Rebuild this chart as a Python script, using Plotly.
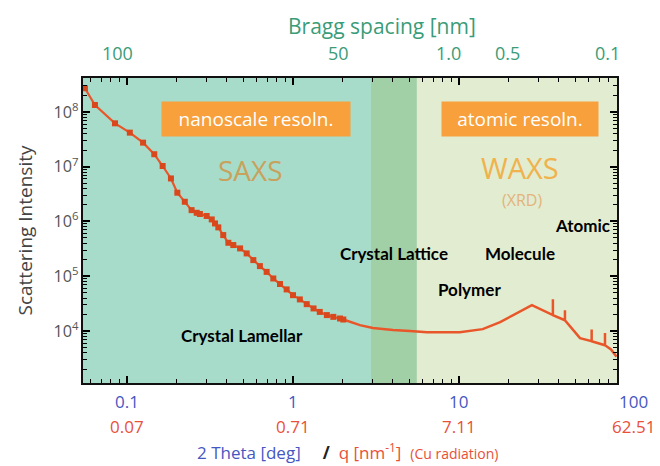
import math
import plotly.graph_objects as go

# ---------------- data ----------------
# SAXS part (2-theta in deg, intensity) – measured points with markers
saxs_x = [0.0558, 0.0641, 0.0847, 0.104, 0.125, 0.146, 0.164, 0.184, 0.201, 0.223,
          0.245, 0.263, 0.275, 0.302, 0.324, 0.339, 0.355, 0.380, 0.408, 0.437,
          0.480, 0.526, 0.577, 0.632, 0.694, 0.761, 0.835, 0.916, 1.00, 1.10,
          1.21, 1.33, 1.45, 1.60, 1.75, 1.92, 2.01]
saxs_y = [2.71e8, 1.34e8, 6.2e7, 4.19e7, 2.75e7, 1.69e7, 1.03e7, 6.1e6, 3.35e6, 2.29e6,
          1.61e6, 1.44e6, 1.37e6, 1.26e6, 1.09e6, 9.2e5, 7.8e5, 5.64e5, 4.08e5, 3.71e5,
          3.22e5, 2.61e5, 1.97e5, 1.53e5, 1.20e5, 9.1e4, 7.2e4, 5.74e4, 4.51e4, 3.77e4,
          3.09e4, 2.58e4, 2.23e4, 1.95e4, 1.81e4, 1.69e4, 1.62e4]

# WAXS part – continuous line with Bragg peaks (spikes)
waxs_x = [2.01, 2.53, 3.03, 4.00, 5.07, 6.41, 10.1, 13.9, 17.7, 22.4, 27.5,
          36.8, 36.8, 36.8, 43.5, 43.5, 43.5, 53.6,
          63.0, 63.0, 63.0, 75.8, 75.8, 75.8, 82.4, 89.0]
waxs_y = [1.62e4, 1.28e4, 1.13e4, 1.04e4, 1.0e4, 9.5e3, 9.5e3, 1.08e4, 1.45e4, 2.12e4, 2.96e4,
          1.95e4, 3.81e4, 1.95e4, 1.57e4, 2.40e4, 1.57e4, 7.4e3,
          6.5e3, 1.06e4, 6.5e3, 5.5e3, 9.2e3, 5.5e3, 4.6e3, 3.4e3]

# region boundaries (2-theta, deg)
region_edges = [0.0543, 2.95, 5.58, 89.5]
region_colors = ["#a7dccb", "#a2d0a6", "#e2ecd0"]

# bottom axis labels
theta_ticks = [0.1, 1, 10, 100]
theta_labels = ["0.1", "1", "10", "100"]
q_labels = ["0.07", "0.71", "7.11", "62.51"]

# top axis (Bragg spacing) labels and their 2-theta positions
bragg_pos = [0.0871, 1.87, 8.7, 19.5, 79.0]
bragg_labels = ["100", "50", "1.0", "0.5", "0.1"]

# ---------------- figure ----------------
BLUE = "#4657c2"
RED = "#e8503a"
GREEN = "#3a9c78"
LINE = "#e8562a"
XR = [-1.265, 1.952]
YR = [3.05, 8.62]


def xpaper(v):
    return (math.log10(v) - XR[0]) / (XR[1] - XR[0])


def minor_vals(lo, hi):
    out = []
    for e in range(math.floor(lo), math.ceil(hi) + 1):
        for m in range(2, 10):
            v = m * 10.0 ** e
            if lo <= math.log10(v) <= hi:
                out.append(v)
    return out


fig = go.Figure()

# background regions as filled traces (drawn first, below the curve)
ylo, yhi = 10 ** YR[0], 10 ** YR[1]
for i, c in enumerate(region_colors):
    x0, x1 = region_edges[i], region_edges[i + 1]
    fig.add_trace(go.Scatter(x=[x0, x1, x1, x0, x0], y=[ylo, ylo, yhi, yhi, ylo],
                             mode="lines", fill="toself", fillcolor=c,
                             line=dict(width=0, color=c), showlegend=False, hoverinfo="skip"))

fig.add_trace(go.Scatter(x=waxs_x, y=waxs_y, mode="lines",
                         line=dict(color=LINE, width=2.5), showlegend=False, hoverinfo="skip"))
fig.add_trace(go.Scatter(x=saxs_x, y=saxs_y, mode="lines+markers",
                         line=dict(color=LINE, width=2.2),
                         marker=dict(symbol="square", size=6, color="#d9481c"),
                         showlegend=False))
# empty trace so that the minor-tick overlay axes get drawn
fig.add_trace(go.Scatter(x=[], y=[], xaxis="x2", yaxis="y2", showlegend=False, hoverinfo="skip"))

ann = []
# bottom labels (two rows)
for t, a, b in zip(theta_ticks, theta_labels, q_labels):
    sh = 9 if t == 100 else 0
    ann.append(dict(x=xpaper(t), y=-0.062, xref="paper", yref="paper", text=a, showarrow=False,
                    xanchor="center", yanchor="middle", xshift=sh,
                    font=dict(family="Open Sans", size=17, color=BLUE)))
    ann.append(dict(x=xpaper(t), y=-0.144, xref="paper", yref="paper", text=b, showarrow=False,
                    xanchor="center", yanchor="middle", xshift=sh,
                    font=dict(family="Open Sans", size=17, color=RED)))
ann.append(dict(x=0.495, y=-0.226, xref="paper", yref="paper", showarrow=False,
                xanchor="center", yanchor="middle",
                text=(f"<span style='color:{BLUE}'>2 Theta [deg]</span>     "
                      f"<span style='color:#222'><b>/</b></span>  "
                      f"<span style='color:{RED}'>q [nm<sup>-1</sup>]</span>  "
                      f"<span style='color:{RED};font-size:14px'>(Cu radiation)</span>"),
                font=dict(family="Open Sans", size=17)))
# top labels
for p, l in zip(bragg_pos, bragg_labels):
    ann.append(dict(x=xpaper(p), y=1.082, xref="paper", yref="paper", text=l, showarrow=False,
                    xanchor="center", yanchor="middle",
                    font=dict(family="Open Sans", size=18, color=GREEN)))
ann.append(dict(x=0.560, y=1.172, xref="paper", yref="paper", text="Bragg spacing [nm]",
                xanchor="center", yanchor="middle",
                showarrow=False, font=dict(family="Open Sans", size=21, color=GREEN)))

# orange boxes
ann.append(dict(x=0.324, y=0.866, xref="paper", yref="paper", text="nanoscale resoln.",
                xanchor="center", yanchor="middle",
                showarrow=False, bgcolor="#f7a03c", width=186, height=32,
                font=dict(family="Open Sans", size=19, color="white")))
ann.append(dict(x=0.818, y=0.866, xref="paper", yref="paper", text="atomic resoln.",
                xanchor="center", yanchor="middle",
                showarrow=False, bgcolor="#f7a03c", width=154, height=32,
                font=dict(family="Open Sans", size=19, color="white")))
ann.append(dict(x=0.313, y=0.698, xref="paper", yref="paper", text="SAXS",
                xanchor="center", yanchor="middle",
                showarrow=False, font=dict(family="Open Sans", size=28, color="#c8a25c")))
ann.append(dict(x=0.818, y=0.705, xref="paper", yref="paper", text="WAXS",
                xanchor="center", yanchor="middle",
                showarrow=False, font=dict(family="Open Sans", size=29, color="#f0b24c")))
ann.append(dict(x=0.822, y=0.600, xref="paper", yref="paper", text="(XRD)",
                xanchor="center", yanchor="middle",
                showarrow=False, font=dict(family="Open Sans", size=16, color="#e2b47c")))

# black labels
labels = [("Crystal Lamellar", 0.298, 0.157), ("Crystal Lattice", 0.582, 0.426),
          ("Molecule", 0.818, 0.426), ("Polymer", 0.723, 0.305), ("Atomic", 0.935, 0.515)]
for t, x, y in labels:
    ann.append(dict(x=x, y=y, xref="paper", yref="paper", text=f"<b>{t}</b>", showarrow=False,
                    xanchor="center", yanchor="middle",
                    font=dict(family="Lato", size=17, color="black")))

major = dict(type="log", showgrid=False, zeroline=False, dtick=1,
             ticks="inside", ticklen=7, tickcolor="#000", tickwidth=2,
             showline=True, linecolor="#111", linewidth=1.8, mirror="ticks",
             layer="above traces")
minor_ax = dict(type="log", showgrid=False, zeroline=False, showticklabels=False,
                ticks="inside", ticklen=4, tickcolor="#000", tickwidth=1.4,
                showline=True, linecolor="#111", linewidth=1.8, mirror="ticks",
                layer="above traces")

# the page body has an 8 px margin, so the figure is drawn 8 px smaller
fig.update_layout(
    width=652, height=458,
    margin=dict(l=75, r=43, t=70, b=83, autoexpand=False),
    paper_bgcolor="white", plot_bgcolor="white",
    annotations=ann,
    xaxis=dict(major, range=XR, showticklabels=False),
    yaxis=dict(major, range=YR, exponentformat="power",
               tickfont=dict(family="Open Sans", size=13, color="#555"),
               title=dict(text="Scattering Intensity", standoff=16,
                          font=dict(family="Open Sans", size=19, color="#444"))),
    xaxis2=dict(minor_ax, range=XR, overlaying="x", anchor="y2", side="bottom",
                tickvals=minor_vals(*XR)),
    yaxis2=dict(minor_ax, range=YR, overlaying="y", anchor="x2", side="left",
                tickvals=minor_vals(*YR)),
)

fig.write_html("out.html")
